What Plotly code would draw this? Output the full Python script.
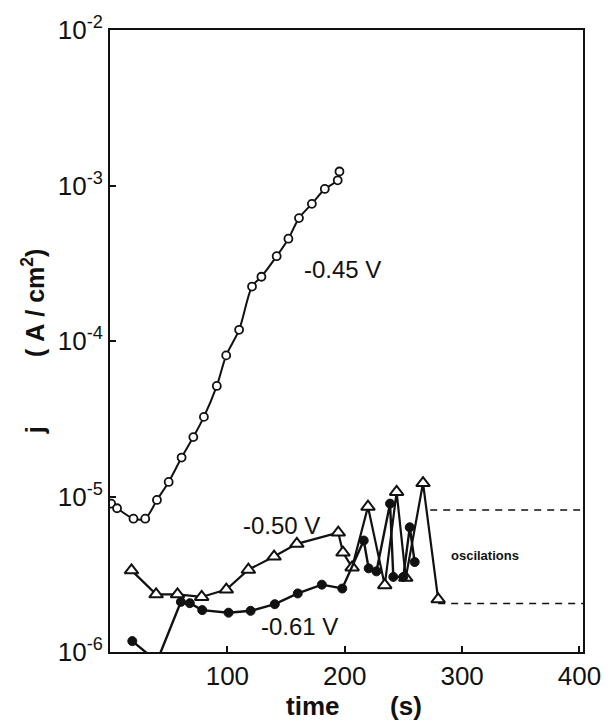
import math
import plotly.graph_objects as go

# ---- data ----
t_045 = [1, 6, 20, 30, 40, 50, 61, 71, 80, 91, 99, 110, 121, 129, 142, 152, 161, 172, 183, 194, 195.5]
j_045 = [9.0e-6, 8.4e-6, 7.2e-6, 7.2e-6, 9.5e-6, 1.24e-5, 1.78e-5, 2.41e-5, 3.25e-5, 5.14e-5,
         8.08e-5, 1.18e-4, 2.24e-4, 2.59e-4, 3.51e-4, 4.55e-4, 6.17e-4, 7.62e-4, 9.5e-4, 1.08e-3, 1.23e-3]

t_050 = [18.3, 39.3, 57.5, 78.1, 99.1, 117.9, 139.8, 159.2, 194.5, 198.5, 206.3, 219.8, 234.1, 244.2,
         252, 266.7, 279.6]
j_050 = [3.35e-6, 2.35e-6, 2.35e-6, 2.26e-6, 2.52e-6, 3.38e-6, 4.11e-6, 4.96e-6, 5.86e-6, 4.36e-6,
         3.50e-6, 8.59e-6, 2.69e-6, 1.07e-5, 3.0e-6, 1.22e-5, 2.18e-6]

t_061 = [19, 40, 60.4, 68, 78.6, 101, 119.8, 140.4, 160, 180.5, 197.9, 216.2, 220.4, 227, 238.6,
         241.4, 249.9, 255.4, 259.6]
j_061 = [1.175e-6, 8.7e-7, 2.10e-6, 2.06e-6, 1.86e-6, 1.79e-6, 1.84e-6, 2.03e-6, 2.38e-6, 2.71e-6,
         2.56e-6, 5.21e-6, 3.45e-6, 3.3e-6, 9.0e-6, 3.04e-6, 3.04e-6, 6.34e-6, 3.79e-6]

osc_top_t = [272.8, 403]
osc_top_j = [8.18e-6, 8.18e-6]
osc_bot_t = [279.6, 403]
osc_bot_j = [2.05e-6, 2.05e-6]

x_ticks = [100, 200, 300, 400]
x_tick_text = ["100", "200", "300", "400"]
y_ticks = [1e-6, 1e-5, 1e-4, 1e-3, 1e-2]
y_tick_text = ["10<sup>-6</sup>", "10<sup>-5</sup>", "10<sup>-4</sup>", "10<sup>-3</sup>", "10<sup>-2</sup>"]

FONT = "Liberation Sans"
INK = "#111111"
SP = "&#160;"

fig = go.Figure()

# dashed oscillation bounds
for tx, jy in ((osc_top_t, osc_top_j), (osc_bot_t, osc_bot_j)):
    fig.add_trace(go.Scatter(x=tx, y=jy, mode="lines",
                             line=dict(color=INK, width=1.6, dash="7px,6px"),
                             showlegend=False, hoverinfo="skip"))

fig.add_trace(go.Scatter(
    x=t_050, y=j_050, mode="lines+markers", name="-0.50 V",
    line=dict(color=INK, width=2.2),
    marker=dict(symbol="triangle-up", size=12, color="white", line=dict(color=INK, width=2)),
    showlegend=False))

fig.add_trace(go.Scatter(
    x=t_061, y=j_061, mode="lines+markers", name="-0.61 V",
    line=dict(color=INK, width=2.4),
    marker=dict(symbol="circle", size=9, color=INK, line=dict(color=INK, width=1)),
    showlegend=False))

fig.add_trace(go.Scatter(
    x=t_045, y=j_045, mode="lines+markers", name="-0.45 V",
    line=dict(color=INK, width=2, shape="spline", smoothing=0.8),
    marker=dict(symbol="circle", size=8, color="white", line=dict(color=INK, width=1.8)),
    showlegend=False))

ann_font = dict(family=FONT, size=24, color=INK)
annotations = [
    dict(x=164, y=math.log10(2.87e-4), xref="x", yref="y", text="-0.45 V",
         showarrow=False, xanchor="left", yanchor="middle", font=ann_font),
    dict(x=112, y=math.log10(6.5e-6), xref="x", yref="y", text="-0.50 V",
         showarrow=False, xanchor="left", yanchor="middle", font=ann_font),
    dict(x=127, y=math.log10(1.45e-6), xref="x", yref="y", text="-0.61 V",
         showarrow=False, xanchor="left", yanchor="middle", font=ann_font),
    dict(x=289, y=math.log10(4.18e-6), xref="x", yref="y", text="<b>oscilations</b>",
         showarrow=False, xanchor="left", yanchor="middle",
         font=dict(family=FONT, size=13, color=INK)),
    dict(x=0.515, y=-0.087, xref="paper", yref="paper",
         text="<b>time" + SP * 7 + "(s)</b>",
         showarrow=False, xanchor="center", yanchor="middle",
         font=dict(family=FONT, size=26, color=INK)),
    dict(x=-0.162, y=0.5, xref="paper", yref="paper", textangle=-90,
         text="<b>j" + SP * 10 + "(" + SP + "A" + SP + "/" + SP + "cm<sup>2</sup>)</b>",
         showarrow=False, xanchor="center", yanchor="middle",
         font=dict(family=FONT, size=25, color=INK)),
]

fig.update_layout(
    width=613, height=727, autosize=False,
    margin=dict(l=110, r=28, t=27, b=75),
    paper_bgcolor="white", plot_bgcolor="white",
    annotations=annotations,
    font=dict(family=FONT, color=INK),
)

fig.update_xaxes(
    range=[0, 403], showgrid=False, zeroline=False,
    showline=True, linecolor=INK, linewidth=2, mirror=True,
    ticks="inside", ticklen=6, tickwidth=2, tickcolor=INK,
    tickvals=x_ticks, ticktext=x_tick_text,
    tickfont=dict(family=FONT, size=26, color=INK),
)
fig.update_yaxes(
    type="log", range=[-6, -2], showgrid=False, zeroline=False,
    showline=True, linecolor=INK, linewidth=2, mirror=True,
    ticks="inside", ticklen=6, tickwidth=2, tickcolor=INK,
    tickvals=y_ticks, ticktext=y_tick_text,
    tickfont=dict(family=FONT, size=26, color=INK),
)

fig.write_html("out.html")
